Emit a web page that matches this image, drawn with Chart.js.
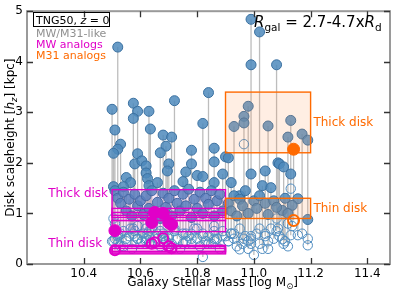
<!DOCTYPE html>
<html><head><meta charset="utf-8">
<script src="https://cdn.jsdelivr.net/npm/chart.js@4.4.0/dist/chart.umd.min.js"></script>
<style>html,body{margin:0;padding:0;background:#fff}</style>
</head><body><canvas id="c" width="399" height="295"></canvas>
<script>
// ---- data ----
const xTicks = [10.4, 10.6, 10.8, 11.0, 11.2, 11.4];
const yTicks = [0, 1, 2, 3, 4, 5];

// MW/M31-like galaxies: stellar mass, thick-disk and thin-disk scaleheights
const massAll = [10.52,10.50,10.575,10.59,10.575,10.63,10.635,10.51,10.53,10.52,10.505,10.59,10.58,10.605,10.62,10.62,10.625,10.63,10.68,10.71,10.69,10.67,10.70,10.695,10.66,10.55,10.565,10.505,10.54,10.72,10.84,10.82,10.78,10.86,10.86,10.90,10.91,10.78,10.76,10.89,10.75,10.80,10.82,10.86,10.92,10.99,11.02,10.99,11.08,10.98,10.965,10.965,10.93,11.05,11.13,11.12,11.17,11.19,11.085,11.09,11.105,11.13,11.04,10.99,11.03,11.06,11.155,11.135,11.10,11.19,11.00,10.95,
10.51,10.52,10.53,10.54,10.55,10.56,10.57,10.58,10.59,10.60,10.61,10.62,10.63,10.64,10.66,10.67,10.68,10.69,10.70,10.71,10.72,10.73,10.74,10.75,10.76,10.77,10.78,10.79,10.80,10.81,10.82,10.83,10.84,10.85,10.86,10.87,10.88,10.89,
10.91,10.92,10.93,10.94,10.95,10.96,10.97,10.98,11.01,11.02,11.04,11.05,11.07,11.08,11.11,11.12];
const hThickAll = [4.29,3.06,3.18,3.02,2.88,3.02,2.67,2.65,2.37,2.27,2.19,2.18,1.98,2.04,1.94,1.80,1.69,1.55,2.55,2.51,2.33,2.20,1.98,1.84,1.61,1.71,1.61,1.53,1.53,3.23,3.39,2.78,2.25,2.29,2.02,2.12,2.10,1.98,1.82,1.78,1.63,1.75,1.73,1.61,1.61,4.84,4.59,3.94,3.94,3.12,2.92,2.79,2.72,2.73,2.84,2.51,2.57,2.45,2.00,1.98,1.92,1.78,1.84,1.78,1.55,1.51,1.29,1.16,1.06,0.88,1.25,1.35,
1.45,1.30,1.20,1.42,1.05,1.28,0.95,1.38,1.15,1.25,0.98,1.35,1.10,1.45,1.22,0.90,1.40,1.12,1.30,0.95,1.45,1.20,1.05,1.38,1.15,1.48,0.92,1.28,1.10,1.42,1.00,1.30,1.18,1.45,0.95,1.25,1.38,1.05,
1.20,1.05,1.35,0.95,1.28,1.15,1.45,1.00,1.10,1.35,1.20,0.98,1.25,1.12,1.30,1.00];
const hThinAll = [0.55,0.45,0.60,0.50,0.70,0.65,0.40,0.80,0.35,0.60,0.90,0.75,0.55,0.45,0.70,0.50,0.60,0.40,0.55,0.80,0.45,0.65,0.50,0.35,0.60,0.50,0.70,0.45,0.65,0.70,0.40,0.14,0.60,0.50,0.75,0.55,0.45,0.50,0.60,0.65,0.40,0.70,0.55,0.45,0.60,0.55,0.70,0.40,0.90,0.30,2.37,0.50,0.60,0.45,1.49,0.80,0.60,0.50,0.70,0.55,0.40,0.57,0.60,0.50,0.30,0.70,0.57,0.75,0.49,0.37,0.18,0.29,
0.50,0.40,0.60,0.35,0.45,0.55,0.30,0.65,0.50,0.40,0.60,0.45,0.55,0.70,0.50,0.35,0.60,0.45,0.55,0.40,0.65,0.50,0.30,0.60,0.45,0.55,0.40,0.70,0.50,0.35,0.60,0.45,0.55,0.40,0.65,0.50,0.30,0.55,
0.45,0.60,0.50,0.35,0.70,0.40,0.55,0.45,0.60,0.40,0.55,0.30,0.50,0.65,0.45,0.35];

// MW analogs
const massMW = [10.51, 10.65, 10.68, 10.64, 10.70, 10.71];
const hThickMW = [0.66, 1.02, 1.00, 0.82, 0.82, 0.78];
const hThinMW = [0.27, 0.43, 0.51, 0.40, 0.35, 0.31];

// M31 analogs
const massM31 = [11.14];
const hThickM31 = [2.27];
const hThinM31 = [0.86];

// observational ranges (boxes): mass range and scaleheight ranges
const mwMassRange = [10.5, 10.9];
const mwThickLo = [0.86, 0.92, 0.64, 0.96];
const mwThickHi = [1.47, 1.10, 0.86, 1.02];
const mwThinLo = [0.20, 0.25, 0.22];
const mwThinHi = [0.37, 0.31, 0.35];
const m31MassRange = [10.9, 11.2];
const m31ThickRange = [2.2, 3.4];
const m31ThinRange = [0.9, 1.3];

// ---- build library data ----
const pts = (xs, ys) => xs.map((x, i) => ({x: x, y: ys[i]}));
const segs = [];
function addSegs(xs, a, b) { xs.forEach((x, i) => { segs.push({x: x, y: b[i]}, {x: x, y: a[i]}, {x: x, y: null}); }); }
addSegs(massAll, hThickAll, hThinAll);
addSegs(massMW, hThickMW, hThinMW);
addSegs(massM31, hThickM31, hThinM31);

const MAG = '#e000c8', ORA = '#ff6a00';
const FONT = "'DejaVu Sans', sans-serif";

function drawRich(ctx, parts, x, y, size, align, color) {
  const fontOf = p => (p.it ? 'italic ' : '') + (p.sub ? size * 0.7 : size) + 'px ' + FONT;
  let w = 0;
  parts.forEach(p => { ctx.font = fontOf(p); w += ctx.measureText(p.t).width; });
  let cx = align === 'center' ? x - w / 2 : (align === 'right' ? x - w : x);
  ctx.textAlign = 'left'; ctx.textBaseline = 'alphabetic';
  parts.forEach(p => {
    ctx.font = fontOf(p); ctx.fillStyle = p.color || color;
    ctx.fillText(p.t, cx, y + (p.sub ? size * 0.25 : 0));
    cx += ctx.measureText(p.t).width;
  });
  return w;
}

const deco = {
  id: 'deco',
  afterDatasetDraw(chart, args) {
    if (args.index !== 2) return;
    const ctx = chart.ctx, xs = chart.scales.x, ys = chart.scales.y;
    const box = (x0, x1, y0, y1, stroke, fill) => {
      const px0 = xs.getPixelForValue(x0), px1 = xs.getPixelForValue(x1);
      const py0 = ys.getPixelForValue(y0), py1 = ys.getPixelForValue(y1);
      ctx.fillStyle = fill; ctx.fillRect(px0, py1, px1 - px0, py0 - py1);
      ctx.strokeStyle = stroke; ctx.lineWidth = 1.4; ctx.strokeRect(px0, py1, px1 - px0, py0 - py1);
    };
    ctx.save();
    mwThickLo.forEach((lo, i) => box(mwMassRange[0], mwMassRange[1], lo, mwThickHi[i], MAG, 'rgba(230,0,200,0.08)'));
    mwThinLo.forEach((lo, i) => box(mwMassRange[0], mwMassRange[1], lo, mwThinHi[i], MAG, 'rgba(230,0,200,0.08)'));
    box(m31MassRange[0], m31MassRange[1], m31ThickRange[0], m31ThickRange[1], ORA, 'rgba(255,140,70,0.15)');
    box(m31MassRange[0], m31MassRange[1], m31ThinRange[0], m31ThinRange[1], ORA, 'rgba(255,140,70,0.15)');
    ctx.restore();
  },
  afterDraw(chart) {
    const ctx = chart.ctx, a = chart.chartArea, xs = chart.scales.x, ys = chart.scales.y;
    ctx.save();
    // frame
    ctx.strokeStyle = '#9a9a9a'; ctx.lineWidth = 2;
    ctx.strokeRect(a.left, a.top, a.right - a.left, a.bottom - a.top);
    // inward ticks on all sides
    ctx.strokeStyle = '#333'; ctx.lineWidth = 1.3;
    ctx.beginPath();
    xTicks.forEach(v => { const p = Math.round(xs.getPixelForValue(v)) + 0.5;
      ctx.moveTo(p, a.bottom); ctx.lineTo(p, a.bottom - 6); ctx.moveTo(p, a.top); ctx.lineTo(p, a.top + 6); });
    yTicks.forEach(v => { const p = Math.round(ys.getPixelForValue(v)) + 0.5;
      ctx.moveTo(a.left, p); ctx.lineTo(a.left + 6, p); ctx.moveTo(a.right, p); ctx.lineTo(a.right - 6, p); });
    ctx.stroke();
    // axis titles
    drawRich(ctx, [{t: 'Galaxy Stellar Mass [log M'}, {t: '\u2299', sub: true}, {t: ']'}],
      (a.left + a.right) / 2 + 4, 286, 12, 'center', '#000');
    ctx.save(); ctx.translate(14, (a.top + a.bottom) / 2); ctx.rotate(-Math.PI / 2);
    drawRich(ctx, [{t: 'Disk scaleheight ['}, {t: 'h', it: true}, {t: 'z', it: true, sub: true}, {t: '] [kpc]'}], 0, 0, 12, 'center', '#000');
    ctx.restore();
    // top-left legend text
    ctx.strokeStyle = '#000'; ctx.lineWidth = 1; ctx.strokeRect(33.5, 12.5, 76, 14);
    drawRich(ctx, [{t: 'TNG50, '}, {t: 'z', it: true}, {t: ' = 0'}], 36, 24, 11, 'left', '#000');
    drawRich(ctx, [{t: 'MW/M31-like'}], 36, 37, 11, 'left', '#909090');
    drawRich(ctx, [{t: 'MW analogs'}], 36, 48, 11, 'left', MAG);
    drawRich(ctx, [{t: 'M31 analogs'}], 36, 59, 11, 'left', ORA);
    // radius annotation
    drawRich(ctx, [{t: 'R', it: true}, {t: 'gal', sub: true}, {t: ' = 2.7-4.7x'}, {t: 'R', it: true}, {t: 'd', sub: true}], 254, 27, 15, 'left', '#000');
    // box labels (data coordinates)
    const lab = (t, x, y, c) => { ctx.font = '12px ' + FONT; ctx.fillStyle = c; ctx.textAlign = 'left'; ctx.textBaseline = 'middle';
      ctx.fillText(t, xs.getPixelForValue(x), ys.getPixelForValue(y)); };
    lab('Thick disk', 11.21, 2.80, ORA);
    lab('Thin disk', 11.21, 1.09, ORA);
    lab('Thick disk', 10.275, 1.38, MAG);
    lab('Thin disk', 10.275, 0.39, MAG);
    ctx.restore();
  }
};

new Chart(document.getElementById('c'), {
  type: 'scatter',
  data: { datasets: [
    { type: 'line', data: segs, showLine: true, spanGaps: false, pointRadius: 0, borderColor: '#bdbdbd', borderWidth: 1.3, order: 7 },
    { data: pts(massAll, hThinAll), pointRadius: 4.7, backgroundColor: 'rgba(0,0,0,0)', borderColor: '#4f8cc0', borderWidth: 1, order: 6 },
    { data: pts(massAll, hThickAll), pointRadius: 5, backgroundColor: 'rgba(78,138,188,0.85)', borderColor: '#3a70a0', borderWidth: 1, order: 5 },
    { data: pts(massMW, hThinMW), pointRadius: 5, backgroundColor: 'rgba(0,0,0,0)', borderColor: MAG, borderWidth: 2, order: 4 },
    { data: pts(massMW, hThickMW), pointRadius: 6, backgroundColor: MAG, borderColor: MAG, borderWidth: 1, order: 3 },
    { data: pts(massM31, hThinM31), pointRadius: 5.5, backgroundColor: 'rgba(0,0,0,0)', borderColor: ORA, borderWidth: 2, order: 2 },
    { data: pts(massM31, hThickM31), pointRadius: 6, backgroundColor: ORA, borderColor: ORA, borderWidth: 1, order: 1 }
  ]},
  options: {
    responsive: false, animation: false, events: [],
    layout: { padding: { top: 3, right: 9, left: 0, bottom: 0 } },
    plugins: { legend: { display: false }, tooltip: { enabled: false } },
    scales: {
      x: { type: 'linear', min: 10.2, max: 11.48,
        afterBuildTicks: s => { s.ticks = xTicks.map(v => ({value: v})); },
        afterFit: s => { s.height = 31; },
        grid: { display: false, drawTicks: false }, border: { display: false },
        ticks: { callback: v => v.toFixed(1), font: { family: FONT, size: 12 }, color: '#000', padding: 3, maxRotation: 0, autoSkip: false } },
      y: { type: 'linear', min: 0, max: 5,
        afterBuildTicks: s => { s.ticks = yTicks.map(v => ({value: v})); },
        afterFit: s => { s.width = 27; },
        grid: { display: false, drawTicks: false }, border: { display: false },
        ticks: { callback: v => String(v), font: { family: FONT, size: 12 }, color: '#000', padding: 4 } }
    }
  },
  plugins: [deco]
});
</script></body></html>
